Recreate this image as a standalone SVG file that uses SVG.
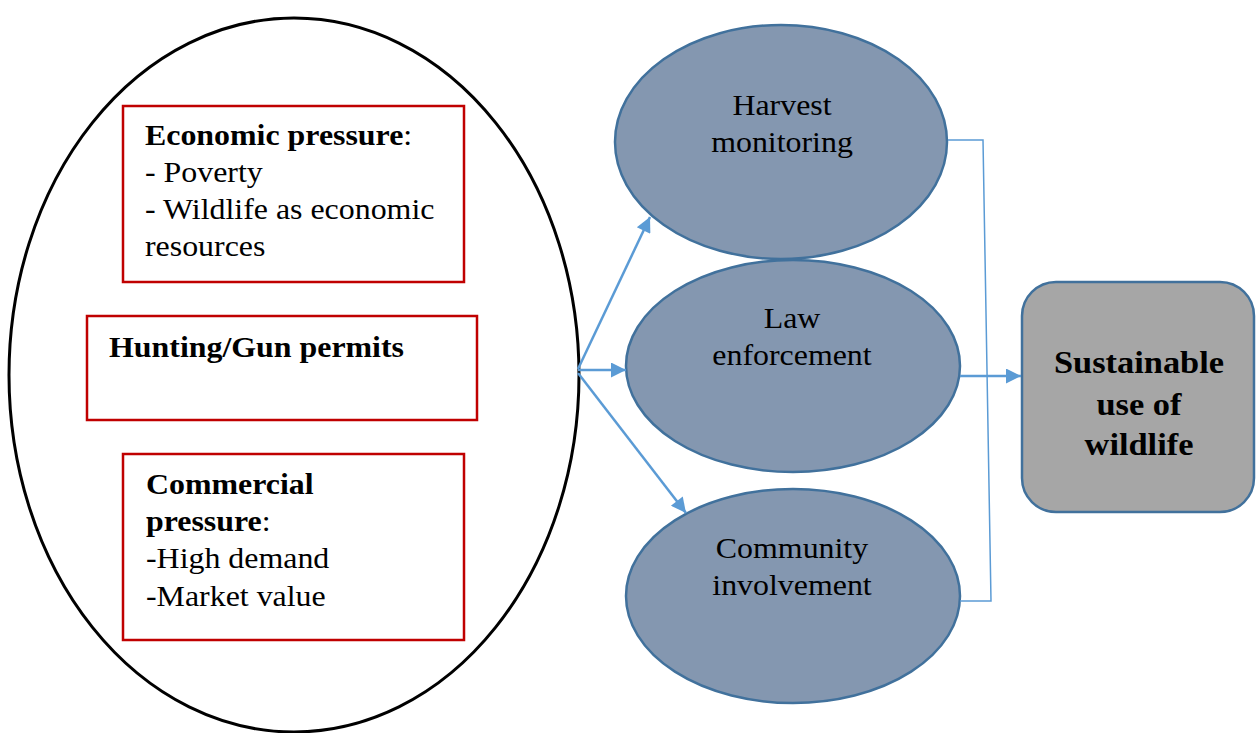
<svg xmlns="http://www.w3.org/2000/svg" width="1256" height="733" viewBox="0 0 1256 733">
  <defs>
    <style>
      text { font-family: "Liberation Serif", "Times New Roman", serif; fill: #000; }
      .lbl { font-size: 29px; }
      .big { font-size: 32px; font-weight: bold; text-anchor: middle; }
      .b { font-weight: bold; }
      .box { fill: #fff; stroke: #C00000; stroke-width: 2.5; }
      .oval { fill: #8497B0; stroke: #41719C; stroke-width: 2.5; }
      .conn { stroke: #5B9BD5; stroke-width: 2.5; fill: none; }
      .thin { stroke: #5B9BD5; stroke-width: 1.5; fill: none; }
      .mid { text-anchor: middle; }
    </style>
    <marker id="arr" viewBox="0 0 10 10" refX="10" refY="5" markerWidth="7" markerHeight="6" orient="auto" markerUnits="strokeWidth">
      <path d="M0,0 L10,5 L0,10 z" fill="#5B9BD5"/>
    </marker>
  </defs>

  <g id="pressures">
    <ellipse cx="294" cy="375" rx="285" ry="357" fill="#fff" stroke="#000" stroke-width="3"/>
  </g>

  <g id="economic">
    <rect class="box" x="123" y="106" width="341" height="176"/>
    <text class="lbl" transform="translate(145 145) scale(1.1 1)"><tspan class="b">Economic pressure</tspan>:</text>
    <text class="lbl" transform="translate(145 182) scale(1.1 1)">- Poverty</text>
    <text class="lbl" transform="translate(145 219) scale(1.1 1)">- Wildlife as economic</text>
    <text class="lbl" transform="translate(145 256) scale(1.1 1)">resources</text>
  </g>

  <g id="permits">
    <rect class="box" x="87" y="316" width="390" height="104"/>
    <text class="lbl b" transform="translate(109 357) scale(1.1 1)">Hunting/Gun permits</text>
  </g>

  <g id="commercial">
    <rect class="box" x="123" y="454" width="341" height="186"/>
    <text class="lbl b" transform="translate(146 494) scale(1.1 1)">Commercial</text>
    <text class="lbl" transform="translate(146 531) scale(1.1 1)"><tspan class="b">pressure</tspan>:</text>
    <text class="lbl" transform="translate(146 568) scale(1.1 1)">-High demand</text>
    <text class="lbl" transform="translate(146 606) scale(1.1 1)">-Market value</text>
  </g>

  <g id="harvest">
    <ellipse class="oval" cx="781" cy="142" rx="166" ry="117"/>
    <text class="lbl mid" transform="translate(782 115) scale(1.1 1)">Harvest</text>
    <text class="lbl mid" transform="translate(782 152) scale(1.1 1)">monitoring</text>
  </g>

  <g id="law">
    <ellipse class="oval" cx="793" cy="366" rx="167" ry="106"/>
    <text class="lbl mid" transform="translate(792 328) scale(1.1 1)">Law</text>
    <text class="lbl mid" transform="translate(792 365) scale(1.1 1)">enforcement</text>
  </g>

  <g id="community">
    <ellipse class="oval" cx="793" cy="596" rx="167" ry="107"/>
    <text class="lbl mid" transform="translate(792 558) scale(1.1 1)">Community</text>
    <text class="lbl mid" transform="translate(792 595) scale(1.1 1)">involvement</text>
  </g>

  <g id="sustainable">
    <rect x="1022" y="282" width="232" height="230" rx="34" ry="34" fill="#A6A6A6" stroke="#41719C" stroke-width="2.5"/>
    <text class="big" transform="translate(1139 373) scale(1.075 1)">Sustainable</text>
    <text class="big" transform="translate(1139 415) scale(1.075 1)">use of</text>
    <text class="big" transform="translate(1139 455) scale(1.075 1)">wildlife</text>
  </g>

  <g id="connectors">
    <line class="conn" x1="578" y1="369" x2="650" y2="217" marker-end="url(#arr)"/>
    <line class="conn" x1="578" y1="370" x2="626" y2="370" marker-end="url(#arr)"/>
    <line class="conn" x1="578" y1="373" x2="686" y2="513" marker-end="url(#arr)"/>
    <line class="conn" x1="960" y1="376" x2="1021" y2="376" marker-end="url(#arr)"/>
    <polyline class="thin" points="948,140 983,140 991,601 960,601"/>
  </g>
</svg>
